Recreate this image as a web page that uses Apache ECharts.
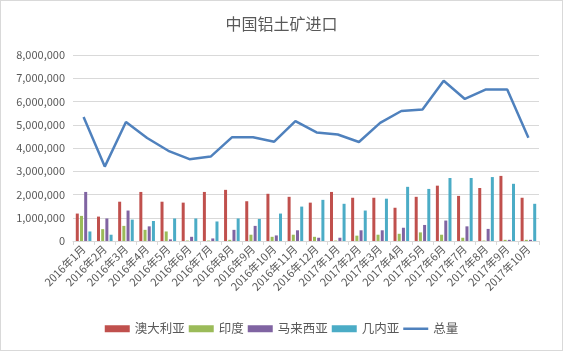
<!DOCTYPE html>
<html>
<head>
<meta charset="utf-8">
<script src="https://cdn.jsdelivr.net/npm/echarts@6/dist/echarts.min.js"></script>
<style>
	html, body { margin: 0; padding: 0; background: #fff; }
	#chart { width: 563px; height: 351px; box-sizing: border-box; border: 1px solid #d9d9d9; }
</style>
</head>
<body>
<div id="chart"></div>
<script>
	// 月份
	var months = ['2016年1月', '2016年2月', '2016年3月', '2016年4月', '2016年5月', '2016年6月',
		'2016年7月', '2016年8月', '2016年9月', '2016年10月', '2016年11月', '2016年12月',
		'2017年1月', '2017年2月', '2017年3月', '2017年4月', '2017年5月', '2017年6月',
		'2017年7月', '2017年8月', '2017年9月', '2017年10月'];

	// 各国进口量 (吨)
	var australia = [1180000, 1050000, 1690000, 2110000, 1690000, 1650000, 2110000, 2200000, 1710000, 2030000, 1900000, 1650000,
		2110000, 1860000, 1860000, 1430000, 1900000, 2380000, 1940000, 2280000, 2800000, 1860000];
	var india = [1080000, 510000, 650000, 480000, 410000, 20000, 20000, 50000, 270000, 180000, 270000, 180000,
		20000, 230000, 270000, 310000, 370000, 270000, 140000, 20000, 50000, 50000];
	var malaysia = [2110000, 970000, 1310000, 630000, 70000, 180000, 110000, 480000, 650000, 240000, 460000, 140000,
		140000, 460000, 460000, 570000, 690000, 880000, 630000, 520000, 50000, 50000];
	var guinea = [410000, 270000, 920000, 860000, 970000, 970000, 840000, 970000, 950000, 1180000, 1480000, 1770000,
		1600000, 1310000, 1820000, 2330000, 2240000, 2710000, 2710000, 2750000, 2460000, 1600000];
	var total = [5330000, 3200000, 5120000, 4430000, 3880000, 3520000, 3630000, 4460000, 4460000, 4270000, 5160000, 4670000,
		4580000, 4260000, 5080000, 5590000, 5660000, 6890000, 6110000, 6520000, 6520000, 4440000];

	var yTicks = { min: 0, max: 8000000, interval: 1000000 };

	var font = 'Microsoft YaHei, "Noto Sans CJK SC", sans-serif';

	function barSeries(name, data, color) {
		return {
			name: name,
			type: 'bar',
			data: data,
			barWidth: 3,
			barGap: '40%',
			itemStyle: { color: color }
		};
	}

	var chart = echarts.init(document.getElementById('chart'));
	chart.setOption({
		animation: false,
		textStyle: { fontFamily: font },
		title: {
			text: '中国铝土矿进口',
			left: 'center',
			top: 10,
			textStyle: { fontSize: 16, fontWeight: 'normal', color: '#595959', fontFamily: font }
		},
		grid: { left: 72, right: 23, top: 54, bottom: 109 },
		legend: {
			bottom: 10,
			left: 'center',
			itemWidth: 25,
			itemHeight: 7,
			itemGap: 4,
			textStyle: { fontSize: 12.5, color: '#595959', fontFamily: font },
			data: [
				{ name: '澳大利亚', icon: 'rect' },
				{ name: '印度', icon: 'rect' },
				{ name: '马来西亚', icon: 'rect' },
				{ name: '几内亚', icon: 'rect' },
				{ name: '总量', icon: 'path://M0,0 L25,0 L25,2.5 L0,2.5 Z' }
			]
		},
		xAxis: {
			type: 'category',
			data: months,
			axisLine: { lineStyle: { color: '#d9d9d9' } },
			axisTick: { show: true, lineStyle: { color: '#d9d9d9' }, length: 4 },
			axisLabel: { rotate: 45, interval: 0, fontSize: 11, color: '#595959', margin: 6 }
		},
		yAxis: {
			type: 'value',
			min: yTicks.min,
			max: yTicks.max,
			interval: yTicks.interval,
			axisLine: { show: false },
			axisTick: { show: false },
			splitLine: { lineStyle: { color: '#d9d9d9' } },
			axisLabel: {
				fontSize: 11,
				color: '#595959',
				margin: 8,
				formatter: function (v) { return v.toLocaleString('en-US'); }
			}
		},
		series: [
			barSeries('澳大利亚', australia, '#C0504D'),
			barSeries('印度', india, '#9BBB59'),
			barSeries('马来西亚', malaysia, '#8064A2'),
			barSeries('几内亚', guinea, '#4BACC6'),
			{
				name: '总量',
				type: 'line',
				data: total,
				symbol: 'none',
				lineStyle: { color: '#4F81BD', width: 2.5 },
				itemStyle: { color: '#4F81BD' }
			}
		]
	});
</script>
</body>
</html>
